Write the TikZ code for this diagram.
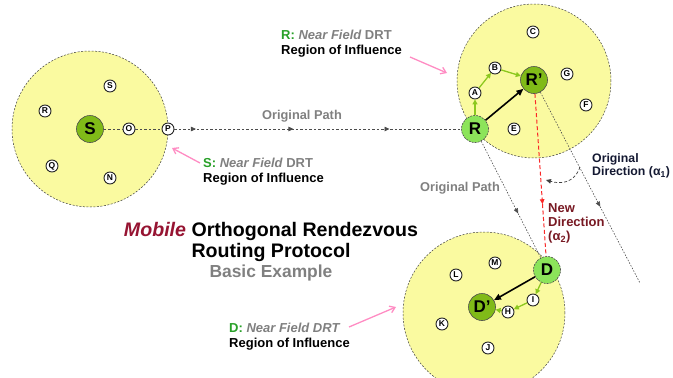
\documentclass[tikz,border=0pt]{standalone}
\usepackage{fontspec}
\setmainfont{Liberation Sans}
\usetikzlibrary{arrows.meta,decorations.markings}
\definecolor{regyellow}{RGB}{250,250,160}
\definecolor{olivegr}{RGB}{128,186,24}
\definecolor{lightgr}{RGB}{140,228,90}
\definecolor{arrgreen}{RGB}{140,200,30}
\definecolor{pinkarr}{RGB}{255,140,195}
\definecolor{lblgreen}{RGB}{40,160,40}
\definecolor{lblgrey}{RGB}{128,128,128}
\definecolor{mobred}{RGB}{150,20,50}
\definecolor{newred}{RGB}{120,25,35}
\definecolor{navy}{RGB}{20,25,50}
\definecolor{reddash}{RGB}{250,40,40}
\begin{document}
\begin{tikzpicture}[x=1pt,y=-1pt,
  region/.style={circle,draw=black!75,dash pattern=on 2pt off 1.5pt,fill=regyellow,line width=0.5pt,inner sep=0pt},
  small/.style={circle,draw=black!85,fill=white,line width=0.9pt,inner sep=0pt,minimum size=12pt,font=\bfseries\fontsize{8.5}{8.5}\selectfont},
  big/.style={circle,draw=black!70,fill=olivegr,line width=0.6pt,inner sep=0pt,minimum size=27pt,font=\bfseries\fontsize{17}{17}\selectfont},
  light/.style={big,fill=lightgr,dash pattern=on 2pt off 1pt},
  lbl/.style={anchor=west,inner sep=0pt,font=\bfseries\fontsize{13}{13}\selectfont},
  gtxt/.style={inner sep=0pt,text=lblgrey,font=\bfseries\fontsize{12.8}{12.8}\selectfont},
  garrow/.style={draw=arrgreen,line width=1.3pt,-{Triangle[length=5pt,width=5pt]}},
  barrow/.style={draw=black,line width=1.6pt,-{Triangle[length=7pt,width=6pt]}},
  parrow/.style={draw=pinkarr,line width=1.3pt,-{Straight Barb[length=5pt,width=7pt]}},
  midarr/.style={postaction={decorate,decoration={markings,mark=at position #1 with {\arrow{Triangle[length=5pt,width=4.5pt]}}}}},
  pathline/.style={draw=black!70,line width=0.8pt,dash pattern=on 2.5pt off 2pt},
  thinline/.style={draw=black!70,line width=0.6pt,dash pattern=on 1.5pt off 1.5pt},
]
\useasboundingbox (0,0) rectangle (673,378);

% regions
\node[region,minimum size=156pt] (regS) at (90,129) {};
\node[region,minimum size=154pt] (regR) at (534,81) {};
\node[region,minimum size=162pt] (regD) at (484,313) {};

% left cluster
\node[big] (S) at (90,129) {S};
\node[small] (s1) at (110,86) {S};
\node[small] (rl) at (45,111) {R};
\node[small] (q) at (52,166) {Q};
\node[small] (n) at (110,178) {N};
\node[small] (o) at (129,129) {O};
\node[small] (p) at (168,129) {P};

% top-right cluster
\node[light] (R) at (475,129) {R};
\node[big] (Rp) at (534,80) {R’};
\node[small] (a) at (475,93) {A};
\node[small] (b) at (495,68) {B};
\node[small] (c) at (533,32) {C};
\node[small] (g) at (567,74) {G};
\node[small] (f) at (586,105) {F};
\node[small] (e) at (514,129) {E};

% bottom cluster
\node[light] (D) at (547,270) {D};
\node[big] (Dp) at (482,307) {D’};
\node[small] (m) at (495,263) {M};
\node[small] (l) at (456,275) {L};
\node[small] (i) at (533,300) {I};
\node[small] (h) at (508,312) {H};
\node[small] (k) at (442,324) {K};
\node[small] (j) at (488,348) {J};

% original path
\draw[pathline] (S) -- (o);
\draw[pathline] (o) -- (p);
\draw[pathline,midarr=0.075,midarr=0.415,midarr=0.75] (p) -- (R);

% dotted paths
\coordinate (endr) at (640,283);
\draw[thinline,midarr=0.62] (R) -- (D);
\draw[thinline,midarr=0.6] (Rp) -- (endr);
\draw[draw=reddash,line width=1pt,dash pattern=on 4pt off 2.5pt,midarr=0.68] (Rp) -- (D);

% angle arc
\coordinate (arcA) at (580,167);
\coordinate (arcB) at (546,180);
\draw[draw=black!75,line width=0.7pt,dash pattern=on 3pt off 2pt,-{Triangle[length=5pt,width=4.5pt]}] (arcA) .. controls (574,184) and (560,184) .. (arcB);

% green and black arrows
\draw[garrow] (R) -- (a);
\draw[garrow] (a) -- (b);
\draw[garrow] (b) -- (Rp);
\draw[barrow] (R) -- (Rp);
\draw[garrow] (D) -- (i);
\draw[garrow] (i) -- (h);
\draw[garrow] (h) -- (Dp);
\draw[barrow] (D) -- (Dp);

% labels
\node[gtxt] (op1) at (302,116) {Original Path};
\node[gtxt] (op2) at (460,188) {Original Path};

\node[lbl] (rl1) at (281,35) {\textcolor{lblgreen}{R:} \textcolor{lblgrey}{\itshape Near Field} \textcolor{lblgrey}{DRT}};
\node[lbl] (rl2) at (281,51) {Region of Influence};
\coordinate (rpa) at (410,57);
\coordinate (rpb) at (447,73);
\draw[parrow] (rpa) -- (rpb);

\node[lbl] (sl1) at (203,163) {\textcolor{lblgreen}{S:} \textcolor{lblgrey}{\itshape Near Field} \textcolor{lblgrey}{DRT}};
\node[lbl] (sl2) at (203,179) {Region of Influence};
\coordinate (spa) at (200,163);
\coordinate (spb) at (172,148);
\draw[parrow] (spa) -- (spb);

\node[lbl] (dl1) at (229,328) {\textcolor{lblgreen}{D:} \textcolor{lblgrey}{\itshape Near Field DRT}};
\node[lbl] (dl2) at (229,344) {Region of Influence};
\coordinate (dpa) at (349,327);
\coordinate (dpb) at (396,307);
\draw[parrow] (dpa) -- (dpb);

\node[lbl,text=navy,align=left,font=\bfseries\fontsize{12.3}{12.3}\selectfont] (od) at (592,166) {Original\\[1pt]Direction (α\textsubscript{1})};
\node[lbl,text=newred,align=left] (nd) at (548,223) {New\\[1pt]Direction\\[1pt](α\textsubscript{2})};

% title
\node[inner sep=0pt,font=\bfseries\fontsize{19.6}{19.6}\selectfont] (t1) at (271,231) {\textcolor{mobred}{\itshape Mobile} Orthogonal Rendezvous};
\node[inner sep=0pt,font=\bfseries\fontsize{19.6}{19.6}\selectfont] (t2) at (271,252) {Routing Protocol};
\node[inner sep=0pt,text=lblgrey,font=\bfseries\fontsize{17.4}{17.4}\selectfont] (t3) at (271,273) {Basic Example};
\end{tikzpicture}
\end{document}
